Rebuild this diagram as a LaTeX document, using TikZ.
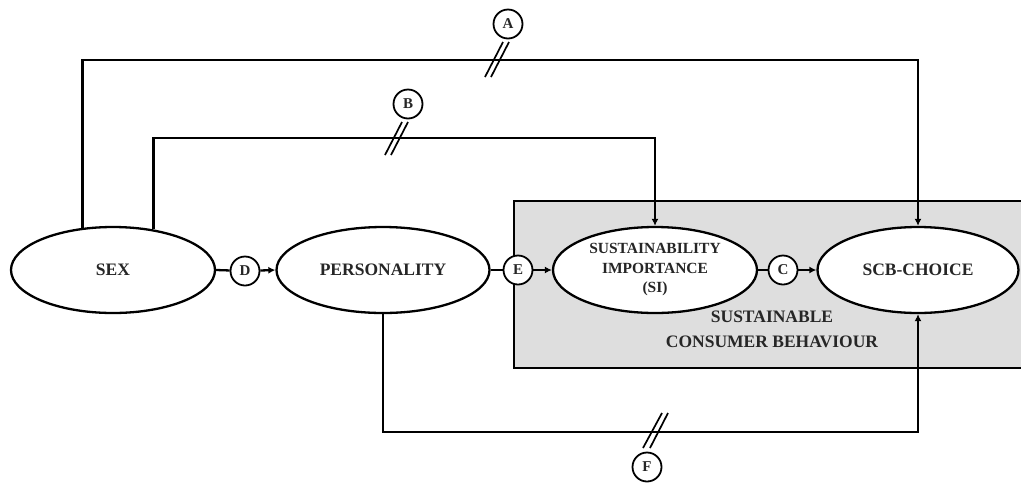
\documentclass[tikz,border=0pt]{standalone}
\usepackage{fontspec}
\setmainfont{Liberation Serif}
\usetikzlibrary{shapes.geometric,arrows.meta}
\begin{document}
\begin{tikzpicture}[x=1pt,y=-1pt,line width=2.3pt,
  ell/.style={ellipse,draw,fill=white,inner sep=0pt,minimum height=86pt,
    text=black!85,font=\bfseries\fontsize{17.5}{19}\selectfont},
  lab/.style={circle,draw,fill=white,minimum size=29pt,inner sep=0pt,line width=1.8pt,
    text=black!85,font=\bfseries\fontsize{15}{16}\selectfont},
  arr/.style={-{Latex[length=7pt,width=7pt]}},
  brk/.style={line width=1.7pt}]
\useasboundingbox (0,0) rectangle (1021,483);
% shaded region
\fill[black!13] (514,201) rectangle (1021,368);
\draw (1022,201) -- (514,201) -- (514,368) -- (1022,368);
% main nodes
\node[ell,minimum width=204pt] (sex) at (113,270) {SEX};
\node[ell,minimum width=213pt] (pers) at (383,270) {PERSONALITY};
\node[ell,minimum width=204pt,align=center,
  font=\bfseries\fontsize{15.5}{19.5}\selectfont] (si) at (655,270)
  {SUSTAINABILITY\\IMPORTANCE\\(SI)};
\node[ell,minimum width=201pt] (scb) at (918,270) {SCB-CHOICE};
\node[align=center,text=black!85,font=\bfseries\fontsize{17.5}{25}\selectfont]
  (sbc) at (772,329) {SUSTAINABLE\\CONSUMER BEHAVIOUR};
% path labels
\node[lab] (D) at (245,271) {D};
\node[lab] (E) at (518,270) {E};
\node[lab] (C) at (783,270) {C};
\node[lab] (A) at (508,24) {A};
\node[lab] (B) at (408,104) {B};
\node[lab] (F) at (647,467) {F};
% chain connectors
\draw (sex.east) -- (D);
\draw[arr] (D) -- (pers.west);
\draw (pers.east) -- (E);
\draw[arr] (E) -- (si.west);
\draw (si.east) -- (C);
\draw[arr] (C) -- (scb.west);
% long connectors
\coordinate (ta) at (918,60);
\coordinate (tb) at (655,138);
\coordinate (tf) at (918,432);
\draw[arr] (sex.126) |- (ta) -- (scb.north);
\draw[arr] (sex.45) |- (tb) -- (si.north);
\draw[arr] (pers.south) |- (tf) -- (scb.south);
% break marks
\draw[brk] (485,77) -- (503,42);
\draw[brk] (491,77) -- (509,42);
\draw[brk] (385,155) -- (402,122);
\draw[brk] (391,155) -- (408,122);
\draw[brk] (643,448) -- (662,413);
\draw[brk] (650,448) -- (668,413);
\end{tikzpicture}
\end{document}
